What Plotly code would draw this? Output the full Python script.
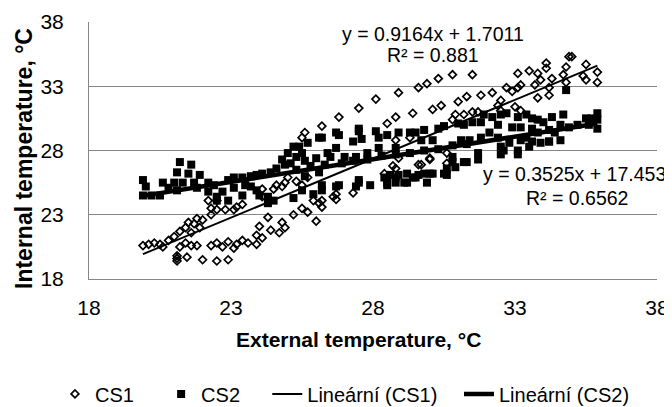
import plotly.graph_objects as go

# CS1 (open diamonds)
cs1_x = [19.9, 20.1, 20.3, 20.5, 21.1, 21.1, 21.1, 21.45, 22.0, 22.5, 22.9,
         21.2, 21.4, 21.6, 21.8, 22.3, 22.5, 22.7, 22.9, 23.1, 23.2, 23.4, 23.6,
         23.9, 24.0, 23.9, 24.1, 24.4, 24.3, 24.7, 24.8, 24.9,
         20.6, 20.8, 21.0, 21.2, 21.4, 21.5, 21.7, 21.6, 21.8, 21.9, 22.0, 22.2, 22.3, 22.3,
         22.5, 22.5, 22.8, 23.1, 23.2, 23.4, 24.1, 24.1, 24.5, 24.6, 24.8, 24.9, 25.0,
         25.2, 25.5, 25.7, 26.0, 25.9, 26.2, 26.2, 26.7, 26.7, 27.3, 28.5, 28.7, 29.6,
         30.0, 30.6, 28.9, 25.3, 25.5, 25.7, 28.4, 28.8, 29.7, 30.0, 26.6, 26.1,
         25.6, 25.5, 26.2, 26.8, 27.5, 28.1, 28.9, 29.6, 29.9, 30.3, 28.5, 28.8, 29.4,
         30.1, 30.4, 28.8, 29.3, 30.6,
         30.8, 31.5, 33.1, 33.5, 33.8, 34.1, 34.1, 34.8, 34.9, 35.0, 35.5, 35.9, 35.9,
         35.5, 35.4, 34.7, 34.8, 34.3, 34.2, 33.9, 33.7, 33.2, 34.2, 33.8, 31.0, 31.3,
         31.8, 32.2, 32.5, 32.7, 32.9, 33.1, 32.4, 32.5, 33.0, 33.2, 30.9, 31.2, 31.5,
         31.7, 30.8]
cs1_y = [20.6, 20.7, 20.8, 20.7, 19.4, 19.6, 19.8, 19.7, 19.5, 19.4, 19.5,
         20.5, 20.8, 20.6, 20.6, 20.6, 20.8, 20.5, 20.9, 20.4, 20.7, 21.0, 20.8,
         21.4, 22.1, 20.7, 21.2, 21.8, 22.8, 21.6, 22.4, 22.0,
         20.5, 21.0, 21.3, 21.7, 22.0, 22.4, 22.3, 21.6, 22.7, 22.0, 22.6, 24.1, 23.5, 23.0,
         23.4, 24.1, 23.4, 23.4, 23.6, 23.8, 25.0, 24.4, 25.0, 25.3, 25.2, 25.5, 25.9,
         23.0, 23.5, 23.2, 22.5, 24.1, 24.1, 23.6, 24.2, 24.6, 24.7, 25.9, 26.8, 26.9,
         27.3, 27.0, 27.4, 25.6, 25.3, 25.9, 26.2, 26.6, 26.9, 27.4, 24.4, 23.9,
         29.4, 29.0, 29.9, 30.6, 31.3, 32.0, 32.5, 32.9, 33.2, 33.6, 30.1, 30.6, 30.9,
         31.2, 31.5, 28.8, 29.0, 27.8,
         33.9, 33.9, 34.0, 34.2, 34.0, 34.8, 34.4, 34.5, 35.3, 35.3, 34.7, 34.1, 33.3,
         33.5, 33.8, 33.9, 33.3, 33.6, 32.9, 33.5, 33.1, 33.1, 32.3, 32.1, 31.8, 32.2,
         32.3, 32.5, 31.9, 32.9, 32.6, 32.9, 31.5, 31.1, 31.4, 31.1, 30.8, 30.8, 31.0,
         31.0, 30.4]

# CS2 (filled squares)
cs2_x = [19.9, 20.0, 19.9, 20.2, 20.6, 20.8, 21.0, 21.1, 21.2, 21.6, 21.5, 21.7, 21.9,
         21.3, 21.8, 21.1, 20.5, 22.2, 22.4, 22.2, 22.5, 22.7, 22.9, 23.1, 23.4, 23.5,
         23.1, 23.4, 22.9, 22.5, 23.7, 23.9, 24.1, 24.4, 24.6, 24.9, 25.0, 24.0, 24.3,
         24.5, 24.3, 23.9, 23.7,
         25.2, 25.4, 25.7, 25.3, 25.5, 26.2, 26.4, 26.7, 26.8, 27.0, 27.3, 27.4, 27.5,
         27.6, 27.8, 28.1, 28.2, 28.2, 28.5, 28.9, 28.8, 29.3, 29.5, 29.8, 30.1, 30.3,
         30.5, 29.7,
         28.6, 28.9, 29.2, 29.6, 30.0, 30.5, 29.9, 26.2, 26.8, 27.5, 27.9, 28.5,
         26.2, 26.7, 27.4, 27.5, 28.5, 28.8, 29.2, 29.5, 29.8, 30.1, 30.6, 25.5, 25.2, 25.9,
         26.1, 26.7, 27.5,
         28.4, 28.8, 29.1, 29.4, 30.6, 30.8, 31.3, 31.7, 32.6, 33.1, 33.5, 34.2,
         31.0, 31.2, 31.5, 31.8, 32.2, 32.5, 32.7, 33.1, 33.4, 33.6, 33.8, 34.0, 34.3,
         34.7, 35.5, 35.7, 35.9, 35.9, 35.6, 32.4, 32.9, 33.2, 33.6, 33.8, 33.4, 33.2,
         33.6, 33.9, 34.2, 34.6, 34.9, 35.2, 32.5, 32.8, 33.1, 32.5, 31.7, 31.2, 30.9,
         30.8, 31.9, 32.1, 31.8, 31.4, 31.1, 32.4, 34.2, 34.4, 34.6, 35.9, 34.8,
         24.8, 25.1, 25.6, 26.0, 26.5, 25.3, 25.8, 26.3, 26.9, 27.3, 27.8, 28.3, 28.8,
         29.3, 29.8, 30.3, 30.8, 31.3, 25.6, 26.1]
cs2_y = [25.7, 25.2, 24.5, 24.5, 25.5, 25.1, 25.5, 26.3, 27.1, 26.9, 26.2, 25.5, 26.1,
         25.5, 25.1, 24.9, 24.5, 25.5, 25.3, 24.8, 24.4, 24.8, 25.7, 25.9, 25.9, 25.3,
         25.1, 24.5, 24.1, 24.1, 26.0, 26.1, 26.2, 26.3, 26.6, 26.9, 27.8, 24.5, 24.4,
         24.1, 23.9, 24.9, 25.2,
         28.3, 28.3, 28.6, 27.5, 27.8, 29.0, 27.8, 28.2, 29.2, 27.5, 28.7, 27.5, 29.5,
         28.9, 27.8, 29.5, 29.0, 28.2, 29.2, 29.4, 28.2, 29.4, 29.4, 29.6, 28.8, 29.7,
         29.9, 28.8,
         26.1, 26.1, 26.2, 26.1, 26.2, 26.2, 25.5, 25.3, 25.3, 25.5, 25.3, 25.3,
         24.9, 25.2, 25.2, 25.7, 25.5, 25.5, 25.5, 25.9, 26.2, 26.2, 26.1, 24.9, 24.3, 24.6,
         29.0, 29.4, 29.7,
         25.9, 25.9, 25.5, 25.9, 26.6, 27.1, 27.1, 27.3, 28.0, 28.0, 28.3, 28.7,
         30.1, 30.0, 30.2, 30.2, 30.6, 30.8, 30.9, 30.6, 30.8, 30.5, 30.4, 30.2, 30.6,
         30.8, 30.5, 30.5, 30.4, 29.7, 30.0, 30.0, 29.8, 29.8, 29.7, 29.4, 29.0, 28.8,
         28.7, 28.6, 28.7, 28.8, 29.8, 30.0, 28.3, 28.6, 27.7, 27.7, 27.8, 27.1, 26.7,
         27.5, 30.8, 29.4, 29.0, 28.8, 28.8, 29.0, 29.6, 29.4, 30.0, 30.9, 32.7,
         27.3, 27.0, 27.2, 27.4, 27.5, 26.5, 26.8, 26.9, 27.0, 27.2, 27.3, 27.6, 27.7,
         27.8, 28.0, 28.1, 28.4, 28.5, 26.0, 26.3]

# Linear trendline coefficients (as printed on the chart)
fit1_slope, fit1_intercept, fit1_r2 = 0.9164, 1.7011, 0.881
fit2_slope, fit2_intercept, fit2_r2 = 0.3525, 17.453, 0.6562

tick_vals = [18, 23, 28, 33, 38]

FONT = "Arial, Liberation Sans, sans-serif"
NB = "\u00a0"

x1 = [min(cs1_x), max(cs1_x)]
y1 = [fit1_slope * v + fit1_intercept for v in x1]
x2 = [min(cs2_x), max(cs2_x)]
y2 = [fit2_slope * v + fit2_intercept for v in x2]

fig = go.Figure()
fig.add_trace(go.Scatter(x=cs1_x, y=cs1_y, mode="markers", name="CS1" + NB * 4,
                         marker=dict(symbol="diamond-open", size=6, color="black",
                                     line=dict(width=1.7, color="black"))))
fig.add_trace(go.Scatter(x=cs2_x, y=cs2_y, mode="markers", name="CS2" + NB * 4,
                         marker=dict(symbol="square", size=8, color="black")))
fig.add_trace(go.Scatter(x=x1, y=y1, mode="lines", name="Lineární (CS1)" + NB * 3,
                         line=dict(color="black", width=2)))
fig.add_trace(go.Scatter(x=x2, y=y2, mode="lines", name="Lineární (CS2)",
                         line=dict(color="black", width=4.5)))

axis_common = dict(range=[18, 38], tickvals=tick_vals, ticktext=[str(t) for t in tick_vals],
                   showline=True, linecolor="#868686", linewidth=1, zeroline=False,
                   tickfont=dict(family=FONT, size=21, color="black"))

fig.update_xaxes(**axis_common, showgrid=False, ticks="", ticklabelstandoff=10)
fig.update_yaxes(**axis_common, showgrid=True, gridcolor="#868686", gridwidth=1,
                 ticks="", ticklabelstandoff=20)

# The page body adds an 8px offset; the figure is sized so the plot lands where the
# reference has it within the 672x407 window.
fig.update_layout(
    width=664, height=399,
    margin=dict(l=81, r=15, t=14, b=128, autoexpand=False),
    paper_bgcolor="white", plot_bgcolor="white",
    font=dict(family=FONT, color="black"),
    showlegend=True,
    legend=dict(orientation="h", x=-0.0599, xanchor="left", y=-0.447, yanchor="middle",
                font=dict(family=FONT, size=20, color="black"), traceorder="normal",
                bgcolor="rgba(0,0,0,0)"),
    annotations=[
        dict(text="<b>External temperature, °C</b>", xref="paper", yref="paper",
             x=0.475, y=-0.237, showarrow=False, xanchor="center", yanchor="middle",
             font=dict(family=FONT, size=21, color="black")),
        dict(text="<b>Internal temperature, °C</b>", xref="paper", yref="paper",
             x=-0.1144, y=0.467, showarrow=False, textangle=-90,
             xanchor="center", yanchor="middle",
             font=dict(family=FONT, size=23, color="black")),
        dict(text=f"y = {fit1_slope}x + {fit1_intercept}",
             xref="paper", yref="paper", x=0.6056, y=0.953, showarrow=False,
             xanchor="center", yanchor="middle",
             font=dict(family=FONT, size=19.5, color="black")),
        dict(text=f"R² = {fit1_r2}",
             xref="paper", yref="paper", x=0.6048, y=0.872, showarrow=False,
             xanchor="center", yanchor="middle",
             font=dict(family=FONT, size=19.5, color="black")),
        dict(text=f"y = {fit2_slope}x + {fit2_intercept}",
             xref="paper", yref="paper", x=0.8556, y=0.4105, showarrow=False,
             xanchor="center", yanchor="middle",
             font=dict(family=FONT, size=19.5, color="black")),
        dict(text=f"R² = {fit2_r2}",
             xref="paper", yref="paper", x=0.8583, y=0.317, showarrow=False,
             xanchor="center", yanchor="middle",
             font=dict(family=FONT, size=19.5, color="black")),
    ],
)

fig.write_html("out.html")
